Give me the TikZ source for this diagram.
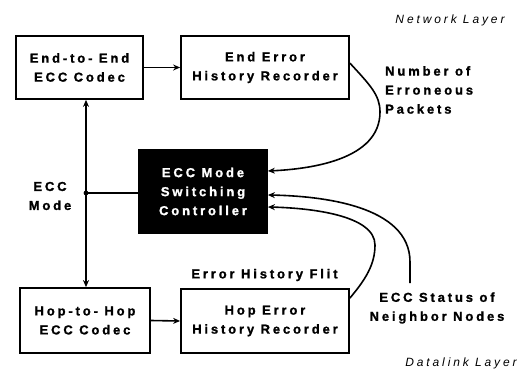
\documentclass[tikz,border=0pt]{standalone}
\usepackage{fontspec}
\setmainfont{Liberation Sans}
\newfontfamily\wb[LetterSpace=22,BoldFeatures={FakeBold=1.2}]{Liberation Sans}
\newfontfamily\wi[LetterSpace=24]{Liberation Sans}
\usetikzlibrary{arrows.meta}
\begin{document}
\begin{tikzpicture}[x=1pt,y=-1pt,
  box/.style={draw,line width=1.8pt,minimum width=#1,align=center,inner sep=0pt,font=\wb\bfseries\fontsize{13}{19}\selectfont},
  box/.default=127pt,
  lbl/.style={align=left,inner sep=0pt,font=\wb\bfseries\fontsize{13}{19}\selectfont},
  layer/.style={inner sep=0pt,font=\wi\itshape\fontsize{12}{14}\selectfont},
  conn/.style={line width=1.6pt},
  arr/.style={conn,-{Stealth[length=7pt,width=6pt]}},
  biarr/.style={conn,{Stealth[length=7pt,width=6pt]}-{Stealth[length=7pt,width=6pt]}}]
\useasboundingbox (0,0) rectangle (531,370);
\node[box=127pt,minimum height=63pt] (A) at (79.5,67.5) {End-to- End\\ECC Codec};
\node[box=168pt,minimum height=63pt] (B) at (265,67.5) {End Error\\History Recorder};
\node[box=128pt,minimum height=83pt,fill=black,text=white] (C) at (203,191.5) {ECC Mode\\Switching\\Controller};
\node[box=130pt,minimum height=65pt] (D) at (85,320.5) {Hop-to- Hop\\ECC Codec};
\node[box=168pt,minimum height=64pt] (E) at (265,321) {Hop Error\\History Recorder};

\node[layer] (nl) at (450,20) {Network Layer};
\node[layer] (dl) at (461,363) {Datalink Layer};
\node[lbl,anchor=north west] (nep) at (385,66) {Number of\\Erroneous\\Packets};
\node[lbl,align=center] (em) at (50,196) {ECC\\Mode};
\node[lbl,align=center] (ehf) at (264.5,275) {Error History Flit};
\node[lbl,align=center] (ecs) at (437,308) {ECC Status of\\Neighbor Nodes};

\coordinate (j) at (86,193);
\coordinate (s3) at (410,283);
\draw[biarr] (A.south -| j) -- (D.north -| j);
\draw[conn] (j) -- (C.west |- j);
\fill (j) circle (2.4pt);
\draw[arr] (A.east) -- (B.west);
\draw[arr] (D.east) -- (E.west);
\draw[arr] (B.north east) ++(0,28) .. controls (370,85) and (380,95) .. (380,112)
   .. controls (380,160) and (310,169) .. (C.east |- 0,171);
\draw[arr] (E.north east) ++(0,10) .. controls (365,280) and (375,265) .. (375,245)
   .. controls (375,215) and (310,208) .. (C.east |- 0,207);
\draw[arr] (s3) -- (410,262) .. controls (410,205) and (320,196) .. (C.east |- 0,195);
\end{tikzpicture}
\end{document}
